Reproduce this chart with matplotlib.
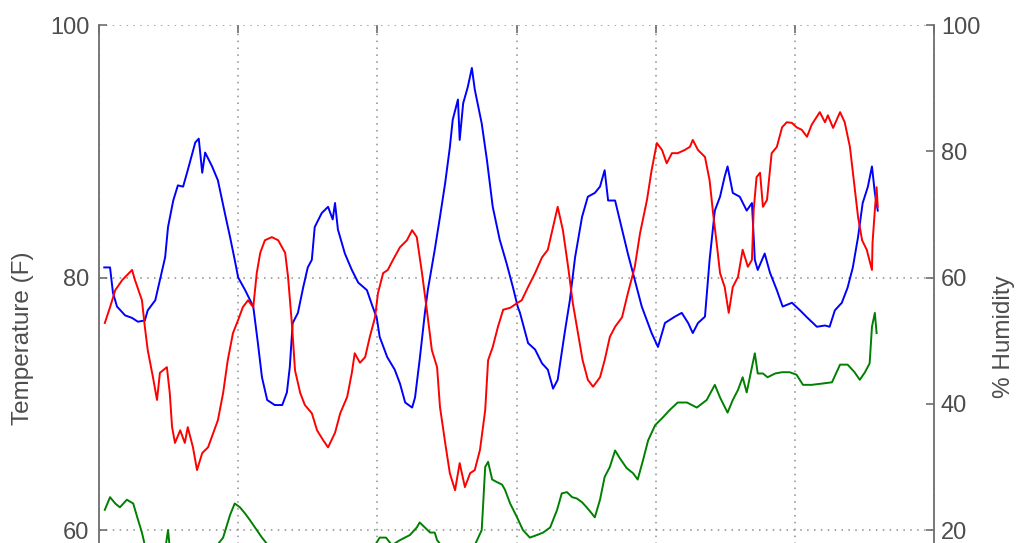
import matplotlib.pyplot as plt

plt.rcParams['font.family'] = ['Liberation Sans', 'DejaVu Sans']

# indoor temperature (F) vs. hours since start
temp_hours = [0.9, 1.9, 2.4, 3.1, 4.5, 5.7, 6.7, 7.9, 8.4, 9.7,
              10.5, 11.4, 11.9, 12.8, 13.6, 14.5, 15.3, 16.6, 17.2, 17.8,
              18.3, 19.5, 20.5, 21.7, 22.6, 23.4, 24.0, 25.2, 26.6, 27.4,
              28.1, 29.0, 30.3, 31.6, 32.4, 32.9, 33.4, 34.3, 35.2, 36.0,
              36.7, 37.2, 38.4, 39.5, 40.3, 40.7, 41.2, 42.4, 43.6, 44.7,
              46.2, 47.1, 47.9, 48.4, 49.7, 51.0, 51.9, 52.8, 54.0, 54.5,
              55.3, 56.2, 56.7, 57.9, 58.8, 59.7, 60.5, 61.0, 61.9, 62.2,
              62.8, 63.6, 64.3, 64.8, 66.0, 66.9, 67.9, 69.1, 70.3, 71.4,
              72.2, 72.6, 74.0, 75.2, 76.4, 77.4, 78.3, 79.1, 80.3, 81.2,
              82.1, 83.3, 84.3, 85.5, 86.4, 87.2, 87.8, 89.0, 90.2, 91.2,
              92.4, 93.6, 95.3, 96.4, 97.6, 99.3, 100.5, 101.6, 102.4, 103.3,
              104.5, 105.3, 106.2, 107.1, 107.9, 108.4, 109.3, 110.5, 111.7, 112.6,
              113.1, 113.6, 114.8, 115.7, 116.9, 117.9, 119.5, 120.9, 122.2, 123.8,
              125.2, 126.0, 126.9, 128.1, 129.1, 130.0, 130.9, 131.7, 132.6, 133.3,
              133.8, 134.3]
temp_in = [80.8, 80.8, 78.8, 77.7, 77.0, 76.8, 76.5, 76.6, 77.4, 78.2,
           79.8, 81.6, 84.0, 86.1, 87.3, 87.2, 88.5, 90.7, 91.0, 88.3,
           89.9, 88.8, 87.7, 85.1, 83.2, 81.4, 80.0, 79.0, 77.7, 74.8,
           72.1, 70.3, 69.9, 69.9, 70.9, 72.9, 76.4, 77.2, 79.2, 80.8,
           81.4, 84.0, 85.1, 85.6, 84.6, 85.9, 83.8, 81.9, 80.6, 79.6,
           79.0, 77.8, 76.8, 75.3, 73.7, 72.7, 71.6, 70.1, 69.7, 70.5,
           73.5, 77.2, 79.0, 82.2, 84.8, 87.5, 90.3, 92.5, 94.1, 90.9,
           93.8, 95.1, 96.6, 94.9, 92.2, 89.3, 85.6, 83.0, 81.1, 79.2,
           77.7, 77.2, 74.8, 74.3, 73.2, 72.7, 71.2, 71.9, 75.6, 78.2,
           81.6, 84.8, 86.4, 86.7, 87.2, 88.5, 86.1, 86.1, 83.8, 81.9,
           79.8, 77.7, 75.6, 74.5, 76.4, 76.9, 77.2, 76.4, 75.6, 76.4,
           76.9, 81.4, 85.3, 86.4, 88.0, 88.8, 86.7, 86.4, 85.3, 85.9,
           81.4, 80.6, 81.9, 80.4, 79.0, 77.7, 78.0, 77.4, 76.8, 76.1,
           76.2, 76.1, 77.4, 78.0, 79.2, 80.8, 83.2, 85.9, 87.2, 88.8,
           86.7, 85.3]

# relative humidity (%)
hum_hours = [1.0, 1.9, 2.8, 4.0, 5.7, 6.2, 7.4, 7.9, 8.4, 9.3,
             10.0, 10.5, 11.7, 12.2, 12.6, 13.1, 14.0, 14.8, 15.3, 16.2,
             16.9, 17.8, 18.8, 19.7, 20.5, 21.4, 22.2, 23.1, 24.0, 24.8,
             25.7, 26.6, 27.2, 27.8, 28.6, 29.8, 30.9, 32.1, 32.6, 33.3,
             33.8, 34.7, 35.5, 36.7, 37.6, 38.6, 39.5, 40.7, 41.6, 42.8,
             43.6, 44.1, 45.0, 45.9, 46.7, 47.6, 48.1, 49.0, 49.8, 50.7,
             51.9, 53.1, 54.0, 54.8, 55.7, 56.6, 57.4, 58.3, 58.8, 59.7,
             60.5, 61.4, 62.2, 63.1, 64.0, 64.8, 65.7, 66.6, 67.1, 67.9,
             68.8, 69.7, 70.9, 72.2, 72.9, 74.0, 75.2, 76.4, 77.4, 78.3,
             79.1, 80.0, 80.9, 81.7, 82.6, 83.4, 84.3, 85.2, 86.4, 87.2,
             88.1, 89.0, 90.2, 91.2, 92.4, 93.3, 94.5, 95.3, 96.2, 97.1,
             97.9, 98.8, 99.8, 101.0, 101.9, 102.4, 103.3, 104.5, 105.3, 105.9,
             106.6, 107.1, 107.9, 108.6, 109.3, 110.2, 111.0, 111.9, 112.6, 112.9,
             113.4, 114.0, 114.5, 115.2, 116.0, 116.9, 117.8, 118.6, 119.5, 120.3,
             121.2, 122.1, 122.9, 124.3, 125.2, 125.7, 126.6, 127.8, 128.6, 129.5,
             130.3, 130.9, 131.6, 132.4, 133.3, 133.4, 133.8, 134.1, 134.3]
humidity = [52.8, 55.3, 58.0, 59.6, 61.2, 59.6, 56.4, 52.2, 48.5, 44.2,
            40.6, 44.9, 45.8, 41.7, 36.3, 33.8, 35.8, 33.8, 36.3, 33.1,
            29.5, 32.2, 33.1, 35.4, 37.4, 41.7, 46.9, 51.2, 53.3, 55.3,
            56.4, 55.3, 60.7, 63.9, 65.9, 66.4, 65.9, 63.9, 60.1, 52.2,
            45.3, 41.7, 39.8, 38.5, 35.8, 34.3, 33.1, 35.4, 38.5, 41.1,
            44.9, 48.0, 46.5, 47.4, 50.6, 53.7, 57.5, 60.7, 61.2, 62.8,
            64.8, 65.9, 67.5, 66.4, 60.7, 54.4, 48.5, 45.8, 39.5, 33.8,
            29.0, 26.3, 30.6, 26.8, 29.0, 29.5, 32.7, 39.0, 46.9, 49.0,
            52.2, 54.9, 55.2, 56.0, 56.4, 58.5, 60.7, 63.2, 64.4, 68.0,
            71.2, 67.5, 61.7, 56.0, 51.2, 46.9, 43.8, 42.7, 44.2, 46.9,
            50.6, 52.2, 53.7, 57.5, 61.7, 67.0, 72.3, 77.0, 81.3, 80.2,
            78.1, 79.7, 79.7, 80.2, 80.7, 81.8, 80.2, 79.1, 75.4, 70.2,
            64.8, 60.7, 58.5, 54.4, 58.5, 60.1, 64.4, 61.7, 62.8, 70.7,
            75.9, 76.6, 71.2, 72.3, 79.7, 80.7, 83.8, 84.6, 84.5, 83.8,
            83.4, 82.3, 84.2, 86.2, 84.6, 85.7, 83.7, 86.2, 84.6, 80.7,
            74.3, 69.6, 65.9, 64.4, 61.2, 65.5, 70.7, 74.3, 71.2]

# outdoor temperature (F)
out_hours = [1.0, 1.9, 2.8, 3.6, 4.8, 5.9, 6.6, 7.4, 7.9, 9.5,
             11.4, 11.9, 12.2, 15.5, 19.0, 21.4, 22.6, 23.4, 24.3, 25.2,
             26.0, 26.9, 28.1, 29.5, 34.7, 41.6, 47.6, 48.4, 49.5, 50.5,
             51.9, 53.6, 54.8, 55.3, 56.2, 57.1, 57.9, 58.3, 59.7, 62.2,
             64.8, 66.0, 66.6, 67.1, 67.8, 68.6, 69.5, 70.0, 70.9, 72.1,
             73.1, 74.3, 75.5, 76.6, 77.8, 79.0, 79.8, 80.7, 81.6, 82.4,
             83.3, 84.1, 85.0, 85.5, 86.4, 87.2, 88.1, 89.0, 89.8, 91.0,
             92.1, 92.9, 93.8, 94.7, 95.9, 97.2, 98.4, 99.8, 101.4, 103.1,
             104.8, 106.2, 107.1, 108.4, 109.3, 110.2, 111.0, 111.7, 112.6, 113.1,
             113.6, 114.5, 115.3, 116.6, 117.8, 119.1, 120.3, 121.4, 122.9, 124.7,
             126.4, 127.8, 129.1, 130.3, 131.2, 132.1, 132.9, 133.3, 133.8, 134.1]
temp_out = [61.6, 62.6, 62.1, 61.8, 62.4, 62.1, 61.0, 59.8, 58.8, 58.0,
            58.4, 60.0, 58.6, 57.6, 58.0, 59.4, 61.2, 62.1, 61.8, 61.3,
            60.8, 60.2, 59.4, 58.6, 57.6, 58.0, 58.8, 59.4, 59.4, 58.8,
            59.2, 59.6, 60.2, 60.6, 60.2, 59.8, 59.8, 59.2, 58.4, 58.0,
            58.8, 60.0, 65.0, 65.4, 64.0, 63.8, 63.6, 63.2, 62.1, 61.0,
            60.0, 59.4, 59.6, 59.8, 60.2, 61.6, 62.9, 63.0, 62.6, 62.5,
            62.2, 61.8, 61.3, 61.0, 62.4, 64.2, 65.0, 66.3, 65.7, 64.9,
            64.5, 64.0, 65.5, 67.1, 68.3, 68.9, 69.5, 70.1, 70.1, 69.7,
            70.3, 71.5, 70.5, 69.3, 70.3, 71.1, 72.1, 70.9, 72.9, 74.0,
            72.4, 72.4, 72.1, 72.4, 72.5, 72.5, 72.3, 71.5, 71.5, 71.6,
            71.7, 73.1, 73.1, 72.5, 71.9, 72.5, 73.2, 76.1, 77.2, 75.6]

text_col = '#4d4d4d'
axis_col = '#6e6e6e'
grid_col = '#8c8c8c'

fig = plt.figure(figsize=(10.23, 5.43), dpi=100)
# axes runs past the bottom of the figure, only the top part is shown
ax = fig.add_axes([0.0968, -0.2086, 0.8162, 1.1625])
ax2 = ax.twinx()

ax.plot(temp_hours, temp_in, color='#0000ff', lw=1.4)
ax.plot(out_hours, temp_out, color='#008000', lw=1.4)
ax2.plot(hum_hours, humidity, color='#ff0000', lw=1.4)

ax.set_xlim(0, 144)
ax.set_xticks(range(0, 145, 24))
ax.set_ylim(50, 100)
ax.set_yticks([60, 80, 100])
ax2.set_ylim(0, 100)
ax2.set_yticks([20, 40, 60, 80, 100])

ax.grid(True, color=grid_col, linestyle=(0, (1, 3.5)), linewidth=1.1)

for a in (ax, ax2):
    a.spines['top'].set_visible(False)
    a.spines['bottom'].set_visible(False)
    for s in ('left', 'right'):
        a.spines[s].set_color(axis_col)
        a.spines[s].set_linewidth(1.3)
ax.spines['right'].set_visible(False)
ax2.spines['left'].set_visible(False)

ax.tick_params(axis='x', direction='in', top=True, bottom=False,
               labelbottom=False, length=6, width=1.2, color=axis_col)
ax.tick_params(axis='y', direction='in', length=6, width=1.2, color=axis_col,
               labelcolor=text_col, labelsize=17, pad=7)
ax2.tick_params(axis='y', direction='in', length=6, width=1.2, color=axis_col,
                labelcolor=text_col, labelsize=17, pad=5)

fig.text(0.0225, 0.3775, 'Temperature (F)', rotation=90, ha='center', va='center',
         fontsize=17.5, color=text_col)
fig.text(0.9814, 0.3794, '% Humidity', rotation=90, ha='center', va='center',
         fontsize=17.5, color=text_col)

fig.savefig('out.png', dpi=100)
